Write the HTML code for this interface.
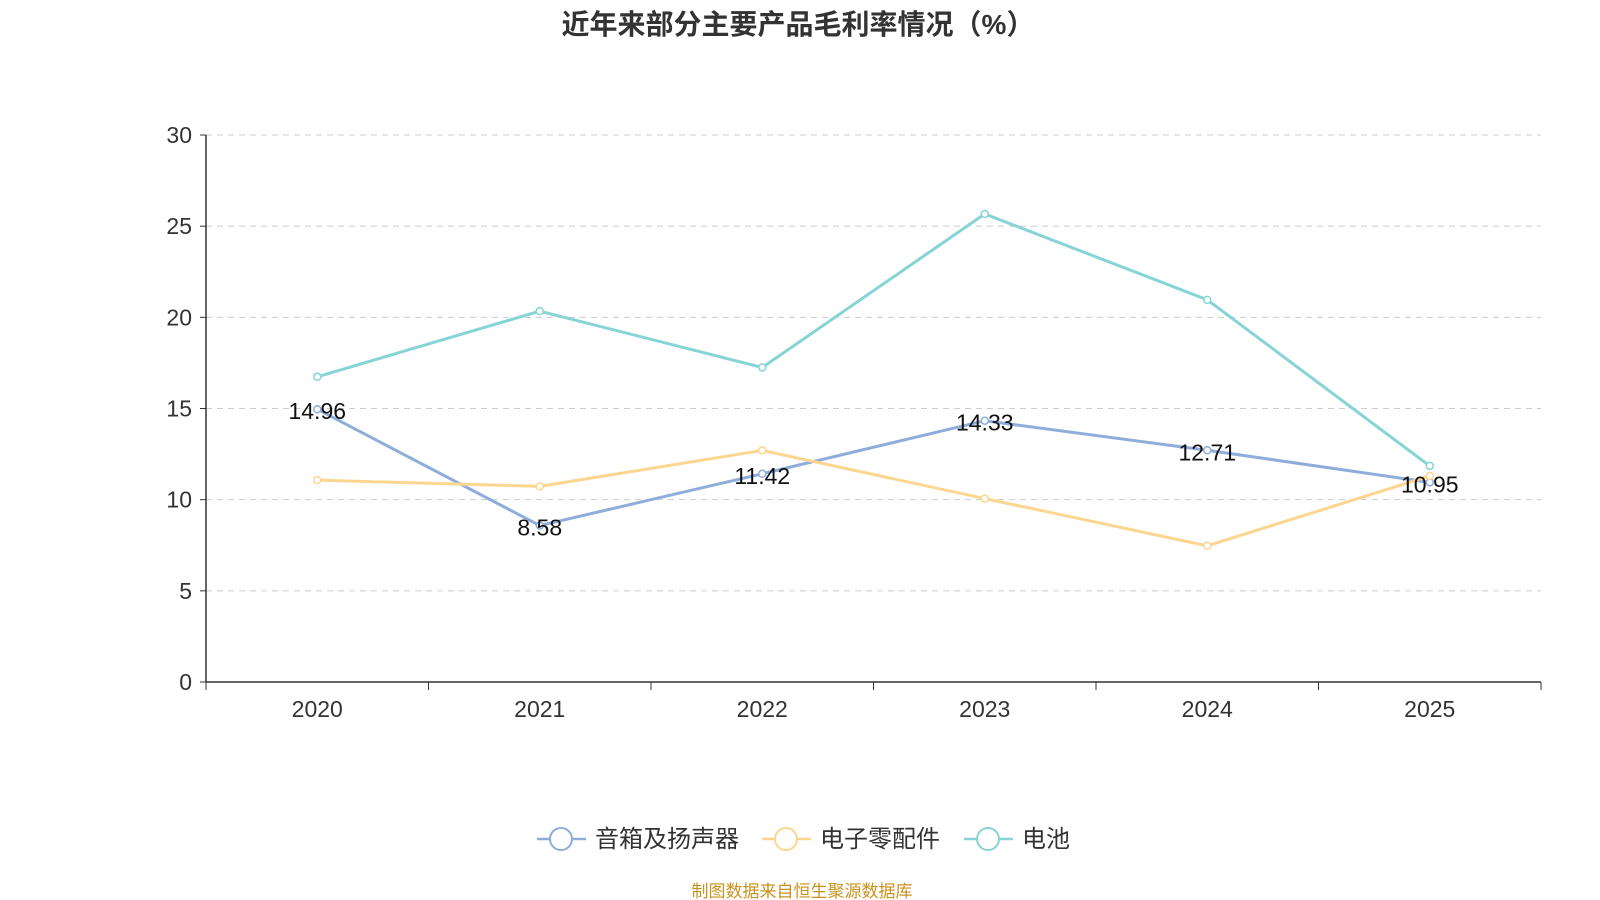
<!DOCTYPE html>
<html><head><meta charset="utf-8">
<style>
html,body{margin:0;padding:0;background:#fff;width:1600px;height:900px;overflow:hidden}
svg text{font-family:"Liberation Sans","Noto Sans CJK SC",sans-serif}
</style></head>
<body>
<svg id="chart" width="1600" height="900">
<text x="798" y="34" text-anchor="middle" font-size="28" font-weight="bold" fill="#333">近年来部分主要产品毛利率情况（%）</text>
<g id="grid"></g><g id="axes"></g><g id="series"></g><g id="labels"></g>
<g id="legend"></g>
<text x="802" y="897" text-anchor="middle" font-size="17" fill="#c8921e">制图数据来自恒生聚源数据库</text>
</svg>
<script>
const categories=["2020","2021","2022","2023","2024","2025"];
const speakers=[14.96,8.58,11.42,14.33,12.71,10.95];
const parts=[11.07,10.73,12.7,10.06,7.47,11.3];
const battery=[16.74,20.34,17.25,25.67,20.96,11.85];
const yTicks=[0,5,10,15,20,25,30];
const seriesNames=["音箱及扬声器","电子零配件","电池"];
const NS="http://www.w3.org/2000/svg";
const x0=206,x1=1541,y0=682,y1=135,yMax=30;
const step=(x1-x0)/categories.length;
const xs=i=>x0+step*(i+0.5);
const ys=v=>y0-(v/yMax)*(y0-y1);
function mk(tag,attrs,parent){const e=document.createElementNS(NS,tag);for(const k in attrs)e.setAttribute(k,attrs[k]);parent.appendChild(e);return e;}
const grid=document.getElementById('grid'),axes=document.getElementById('axes'),ser=document.getElementById('series'),lab=document.getElementById('labels'),leg=document.getElementById('legend');
yTicks.forEach(t=>{
  if(t>0){const l=mk('line',{x1:x0,x2:x1,y1:ys(t),y2:ys(t),stroke:'#ccc','stroke-dasharray':'6,5'},grid);
  
  }
  const tk=mk('line',{x1:x0-6,x2:x0,y1:ys(t),y2:ys(t),stroke:'#333'},axes);
  
  
  const tx=mk('text',{x:x0-14,y:ys(t)+8,'text-anchor':'end','font-size':'23',fill:'#333'},axes);
  tx.textContent=t;
  
  
});
const ya=mk('line',{x1:x0,x2:x0,y1:y1,y2:y0,stroke:'#333','stroke-width':1.5},axes);


const xa=mk('line',{x1:x0,x2:x1,y1:y0,y2:y0,stroke:'#333','stroke-width':1.5},axes);


for(let i=0;i<=categories.length;i++){
  const t=mk('line',{x1:x0+step*i,x2:x0+step*i,y1:y0,y2:y0+8,stroke:'#333'},axes);
  
  
}
categories.forEach((c,i)=>{
  const t=mk('text',{x:xs(i),y:y0+35,'text-anchor':'middle','font-size':'23',fill:'#333'},axes);
  t.textContent=c;
  
  
});
const all=[[speakers,'#8eaddb','speakers'],[parts,'#fcd68f','electronic-parts'],[battery,'#86d4d6','battery']];
all.forEach(([vals,col,nm])=>{
  const p=mk('polyline',{points:vals.map((v,i)=>xs(i)+','+ys(v)).join(' '),fill:'none',stroke:col,'stroke-width':3},ser);
  
  
  vals.forEach((v,i)=>{
    const c=mk('circle',{cx:xs(i),cy:ys(v),r:3.5,fill:'#fff',stroke:col,'stroke-width':1.5},ser);
    
    
  });
});
speakers.forEach((v,i)=>{
  const t=mk('text',{x:xs(i),y:ys(v)+10,'text-anchor':'middle','font-size':'23',fill:'#111'},lab);
  t.textContent=v.toFixed(2);
  
  
});
const lx=[537,762,964];
all.forEach(([v,col,nm],i)=>{
  const g=mk('g',{},leg);
  
  
  mk('line',{x1:lx[i],x2:lx[i]+49,y1:839,y2:839,stroke:col,'stroke-width':2.5},g);
  mk('circle',{cx:lx[i]+24,cy:839,r:11,fill:'#fff',stroke:col,'stroke-width':2},g);
  const t=mk('text',{x:lx[i]+58,y:847,'font-size':'24',fill:'#333'},g);
  t.textContent=seriesNames[i];
});
</script>
</body></html>
